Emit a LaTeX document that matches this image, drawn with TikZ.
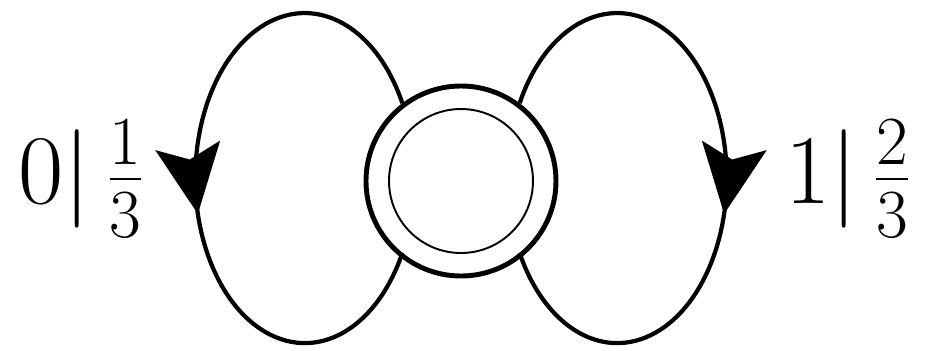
\RequirePackage{fix-cm}
\documentclass[tikz,border=0pt]{standalone}
\usepackage{amsmath}
\usetikzlibrary{arrows.meta,decorations.markings}

\begin{document}
\begin{tikzpicture}[
  stt/.style={draw, circle, minimum size=3.8cm, line width=2.8pt, inner sep=0pt},
  ring/.style={draw, circle, minimum size=2.88cm, line width=1.1pt, inner sep=0pt},
  arr/.style={line width=2.4pt, postaction={decorate},
    decoration={markings, mark=at position 0.55 with {\arrow{Stealth[length=1.38cm, width=1.3cm, inset=0.28cm]}}}},
  lbl/.style={font=\fontsize{56}{60}\selectfont, inner sep=0pt}
]
\useasboundingbox (-9.22,-3.38) rectangle (9.30,3.62);
\node[stt] (s) at (0,0) {};
\node[ring] (r) at (s) {};
% self loops
\draw[arr] (s.127) arc[start angle=27, end angle=333, x radius=2.19cm, y radius=3.3cm];
\draw[arr] (s.53) arc[start angle=153, end angle=-153, x radius=2.19cm, y radius=3.3cm];
\node[lbl] (l0) at (-7.6,0.04) {$0|\mkern3mu\frac{1}{3}$};
\node[lbl] (l1) at (7.73,0.04) {$1|\mkern3mu\frac{2}{3}$};
\end{tikzpicture}
\end{document}
